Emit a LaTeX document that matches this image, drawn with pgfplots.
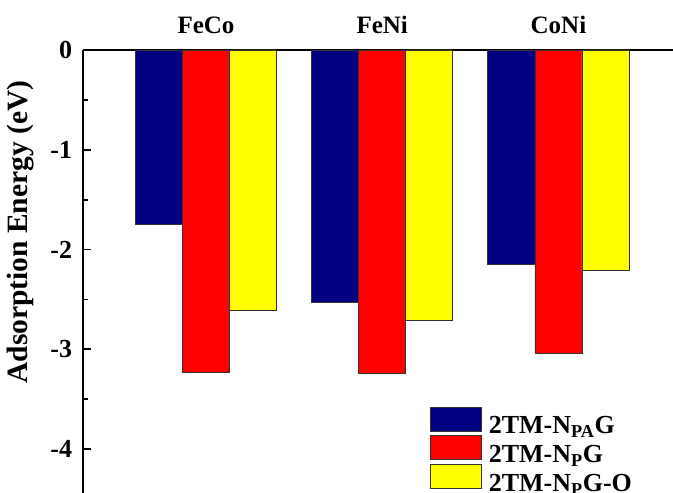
\documentclass[border=0pt]{standalone}
\usepackage{fontspec}
\setmainfont{Liberation Serif}
\usepackage{pgfplots}
\pgfplotsset{compat=1.18}
\definecolor{navyb}{RGB}{0,0,128}
\definecolor{redb}{RGB}{255,0,0}
\definecolor{yelb}{RGB}{255,255,0}
\begin{document}
\begin{tikzpicture}
\useasboundingbox (0,0) rectangle (673bp,493bp);
\begin{axis}[
  at={(83.3bp,0bp)}, anchor=south west,
  scale only axis, width=589.7bp, height=443bp,
  xmin=-0.696, xmax=2.65, ymin=-4.44, ymax=0,
  axis x line*=top, axis y line*=left,
  axis line style={line width=2.2bp, -},
  ybar, bar width=0.267,
  xtick={0,1,2}, xticklabels={FeCo,FeNi,CoNi},
  xtick style={draw=none},
  xticklabel style={font=\fontsize{25bp}{28bp}\selectfont\bfseries, inner sep=0pt, anchor=south, yshift=16.5bp},
  ytick={-4,-3,-2,-1,0}, yticklabels={-4,-3,-2,-1,0},
  minor y tick num=1,
  tick align=inside,
  major tick length=8bp, minor tick length=5bp,
  y tick style={line width=1.8bp, black},
  yticklabel style={font=\fontsize{26bp}{28bp}\selectfont\bfseries, inner sep=0pt, anchor=east, xshift=-11bp},
  ylabel={Adsorption Energy (eV)},
  ylabel style={font=\fontsize{29.5bp}{34bp}\selectfont\bfseries, at={(axis description cs:-0.107,0.589)}, anchor=center},
  legend cell align=left,
  legend image code/.code={\draw[#1] (0bp,-5bp) rectangle (51bp,19bp);},
  legend style={at={(axis description cs:0.588,0)}, anchor=south west, draw=none, fill=none,
    inner sep=0pt, outer sep=0pt, row sep=0bp,
    font=\fontsize{26bp}{28bp}\selectfont\bfseries,
    nodes={inner sep=0pt},
    /tikz/every odd column/.append style={column sep=7bp}},
]
\addplot[fill=navyb, draw=black!80, line width=0.8bp, bar shift=-0.267] coordinates {(0,-1.75) (1,-2.53) (2,-2.15)};
\addplot[fill=redb, draw=black!80, line width=0.8bp, bar shift=0] coordinates {(0,-3.23) (1,-3.24) (2,-3.04)};
\addplot[fill=yelb, draw=black!80, line width=0.8bp, bar shift=0.267] coordinates {(0,-2.61) (1,-2.71) (2,-2.21)};
\legend{2TM-N\textsubscript{PA}G, 2TM-N\textsubscript{P}G, 2TM-N\textsubscript{P}G-O}
\end{axis}
\end{tikzpicture}
\end{document}
